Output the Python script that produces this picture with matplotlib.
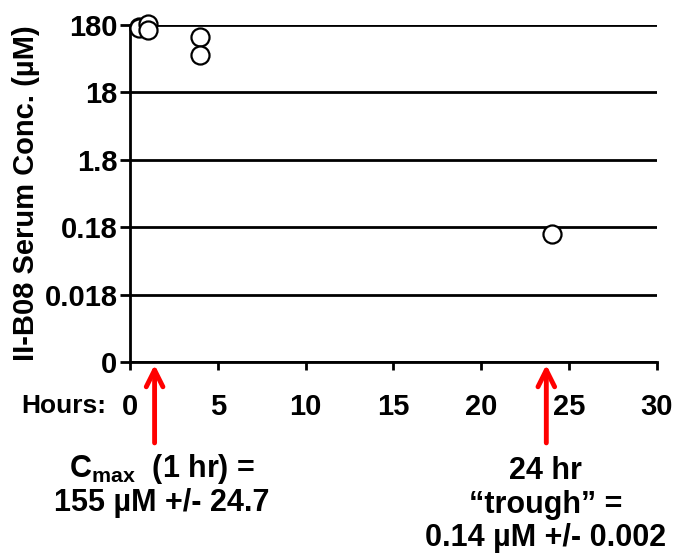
import numpy as np
import matplotlib
matplotlib.use("Agg")
import matplotlib.pyplot as plt

plt.rcParams['font.family'] = ['Liberation Sans', 'DejaVu Sans']
plt.rcParams['font.weight'] = 'bold'
plt.rcParams['mathtext.fontset'] = 'custom'
plt.rcParams['mathtext.rm'] = 'Liberation Sans:bold'
plt.rcParams['mathtext.it'] = 'Liberation Sans:bold'
plt.rcParams['mathtext.bf'] = 'Liberation Sans:bold'

# serum concentration measurements
hours = [0.5, 0.5, 1, 1, 4, 4, 24]
conc = [168, 160, 188, 150, 119, 64, 0.142]

y_ticks = [0.0018, 0.018, 0.18, 1.8, 18, 180]
y_tick_labels = ["0", "0.018", "0.18", "1.8", "18", "180"]
x_ticks = [0, 5, 10, 15, 20, 25, 30]

# arrow positions (hours)
arrow_x = [1.4, 23.7]

fig = plt.figure(figsize=(6.86, 5.59), dpi=100)
ax = fig.add_axes([0.1895, 0.3524, 0.7682, 0.6029])

ax.set_yscale('log')
ax.set_ylim(0.0018, 180)
ax.set_xlim(0, 30)
ax.set_yticks(y_ticks)
ax.set_yticklabels(y_tick_labels)
ax.minorticks_off()
ax.set_xticks(x_ticks)
ax.yaxis.grid(True, color='black', linewidth=2.0)
ax.set_axisbelow(True)

for s in ['top', 'right']:
    ax.spines[s].set_visible(False)
for s in ['left', 'bottom']:
    ax.spines[s].set_linewidth(2.0)

ax.tick_params(axis='y', direction='out', length=7, width=2.0, labelsize=21, pad=2)
ax.tick_params(axis='x', direction='out', length=6, width=2.0, labelsize=21, pad=16)

ax.plot(hours, conc, 'o', markersize=13, markerfacecolor='white',
        markeredgecolor='black', markeredgewidth=1.6, clip_on=False, zorder=5)

ax.set_ylabel("II-B08 Serum Conc. (\u00b5M)", fontsize=21, fontweight='bold', labelpad=3)

fig.text(0.155, 0.274, "Hours:", fontsize=19, fontweight='bold', ha='right', va='center')

for xa in arrow_x:
    ax.annotate("", xy=(xa, -0.008), xytext=(xa, -0.24),
                xycoords=('data', 'axes fraction'), textcoords=('data', 'axes fraction'),
                arrowprops=dict(arrowstyle='->', color='red', lw=3.5,
                                mutation_scale=30, shrinkA=0, shrinkB=0),
                annotation_clip=False)

fig.text(0.236, 0.132, "C$_{max}$  (1 hr) =\n155 \u00b5M +/- 24.7", fontsize=22,
         fontweight='bold', ha='center', va='center', linespacing=1.1)
fig.text(0.795, 0.097, "24 hr\n\u201ctrough\u201d =\n0.14 \u00b5M +/- 0.002", fontsize=22,
         fontweight='bold', ha='center', va='center', linespacing=1.15)

fig.savefig("out.png", dpi=100)
